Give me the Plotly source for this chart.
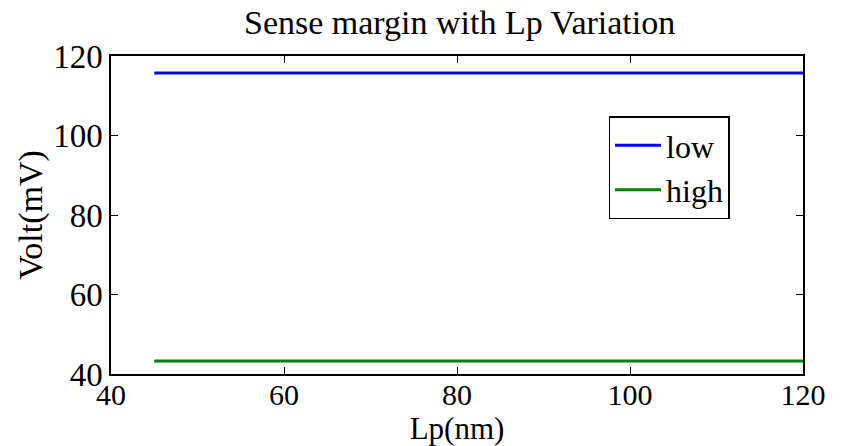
import plotly.graph_objects as go

lp = [45, 60, 80, 100, 120]
low = [115.7, 115.7, 115.7, 115.7, 115.7]
high = [43.3, 43.3, 43.3, 43.3, 43.3]
x_ticks = [40, 60, 80, 100, 120]
y_ticks = [40, 60, 80, 100, 120]

FONT = "Liberation Serif"

fig = go.Figure()
fig.add_trace(go.Scatter(x=lp, y=low, mode="lines", name="low",
                         line=dict(color="#0000ff", width=3)))
fig.add_trace(go.Scatter(x=lp, y=high, mode="lines", name="high",
                         line=dict(color="#008000", width=3)))

axis_common = dict(showgrid=False, zeroline=False, showline=True, linecolor="black",
                   linewidth=1.5, mirror="ticks", ticks="inside", ticklen=7,
                   tickcolor="black", tickwidth=1, automargin=False)

fig.update_xaxes(range=[40, 120], tickvals=x_ticks, ticktext=[str(v) for v in x_ticks],
                 ticklabelstandoff=-7,
                 tickfont=dict(family=FONT, size=30, color="black"),
                 title=dict(text="Lp(nm)", font=dict(family=FONT, size=31, color="black"), standoff=3),
                 **axis_common)
fig.update_yaxes(range=[40, 120], tickvals=y_ticks, ticktext=[str(v) for v in y_ticks],
                 tickfont=dict(family=FONT, size=33, color="black"),
                 title=dict(text="Volt(mV)", font=dict(family=FONT, size=34, color="black"), standoff=0),
                 **axis_common)

fig.update_layout(
    width=848, height=446,
    margin=dict(l=111, r=45, t=56, b=72),
    paper_bgcolor="white", plot_bgcolor="white",
    title=dict(text="Sense margin with Lp Variation", x=0.542, xanchor="center",
               y=0.978, yanchor="top",
               font=dict(family=FONT, size=34, color="black")),
    legend=dict(x=0.719, y=0.81, xanchor="left", yanchor="top",
                bgcolor="white", bordercolor="black", borderwidth=1.5,
                font=dict(family=FONT, size=32, color="black"),
                tracegroupgap=0, itemwidth=46),
    showlegend=True,
)

fig.write_html("out.html")
